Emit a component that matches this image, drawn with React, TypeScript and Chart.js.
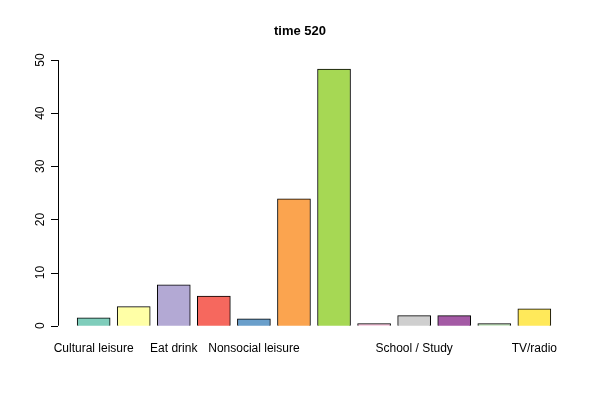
import React, { useEffect, useRef } from "react";
import { Chart, registerables } from "chart.js";
Chart.register(...registerables);

const categories = ["Cultural leisure", "", "Eat drink", "", "Nonsocial leisure", "", "", "", "School / Study", "", "", "TV/radio"];
const values = [1.5, 3.6, 7.7, 5.6, 1.3, 23.9, 48.3, 0.4, 1.9, 1.9, 0.4, 3.2];
const colors = ["#7fcdbb", "#ffffa6", "#b3a9d4", "#f6685e", "#6a9fcb", "#fba44f", "#a6d854", "#f7c6dc", "#cfcfcf", "#a45aa5", "#c6e6c0", "#ffe95a"];
const yTicks = [0, 10, 20, 30, 40, 50];
const FONT = "'Liberation Sans', Arial, sans-serif";

export default function App() {
  const ref = useRef<HTMLCanvasElement>(null);
  useEffect(() => {
    const axes = {
      id: "rAxes",
      afterDraw(chart: any) {
        const ctx = chart.ctx;
        const x = chart.scales.x, y = chart.scales.y;
        const left = chart.chartArea.left;
        ctx.save();
        ctx.strokeStyle = "#000";
        ctx.lineWidth = 1;
        ctx.fillStyle = "#000";
        ctx.font = `12px ${FONT}`;
        const y0 = y.getPixelForValue(0), y1 = y.getPixelForValue(50);
        ctx.beginPath();
        ctx.moveTo(left + 0.5, y0); ctx.lineTo(left + 0.5, y1);
        yTicks.forEach(t => {
          const p = Math.round(y.getPixelForValue(t)) + 0.5;
          ctx.moveTo(left, p); ctx.lineTo(left - 7, p);
        });
        ctx.stroke();
        yTicks.forEach(t => {
          const p = y.getPixelForValue(t);
          ctx.save();
          ctx.translate(left - 17, p);
          ctx.rotate(-Math.PI / 2);
          ctx.textAlign = "center";
          ctx.textBaseline = "middle";
          ctx.fillText(String(t), 0, 0);
          ctx.restore();
        });
        ctx.textAlign = "center";
        ctx.textBaseline = "middle";
        categories.forEach((c, i) => {
          if (!c) return;
          ctx.fillText(c, x.getPixelForValue(0.7 + 1.2 * i), 349);
        });
        ctx.font = `bold 13px ${FONT}`;
        ctx.fillText("time 520", 300, 31);
        ctx.restore();
      },
    };
    const chart = new Chart(ref.current!, {
      type: "bar",
      data: {
        datasets: [{
          data: values.map((v, i) => ({ x: 0.7 + 1.2 * i, y: v })),
          backgroundColor: colors,
          borderColor: "#000",
          borderWidth: 1,
          barThickness: 33,
        } as any],
      },
      options: {
        animation: false,
        responsive: false,
        layout: { padding: { left: 58, right: 30, top: 59, bottom: 64 } },
        plugins: { legend: { display: false }, tooltip: { enabled: false } },
        scales: {
          x: { type: "linear", offset: false, min: -0.368, max: 14.968, display: false },
          y: { min: -1.93, max: 50.2, display: false },
        },
      },
      plugins: [axes],
    });
    return () => chart.destroy();
  }, []);
  return (
    <div style={{ position: "absolute", left: 0, top: 0, width: 600, height: 400, background: "#fff" }}>
      <canvas ref={ref} width={600} height={400} />
    </div>
  );
}
